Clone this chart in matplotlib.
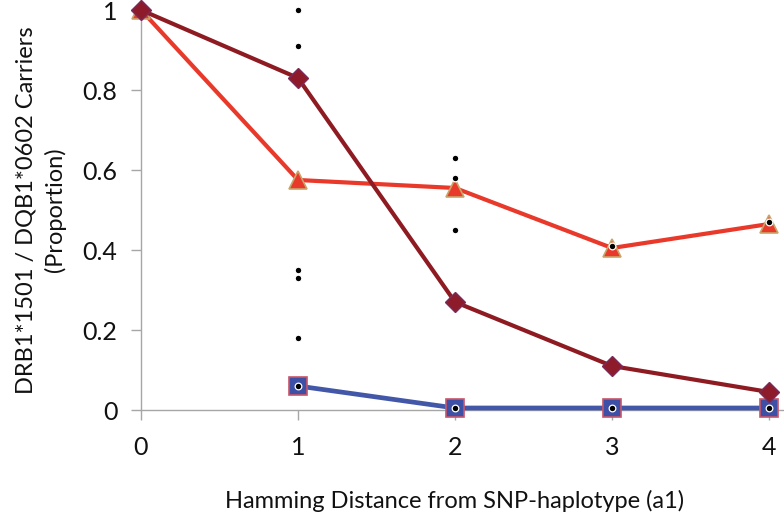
import matplotlib
matplotlib.use("Agg")
import matplotlib.pyplot as plt

plt.rcParams['font.family'] = ['Lato', 'DejaVu Sans']

x_diamond = [0, 1, 2, 3, 4]
y_diamond = [1.0, 0.83, 0.27, 0.11, 0.045]

x_triangle = [0, 1, 2, 3, 4]
y_triangle = [1.0, 0.575, 0.555, 0.405, 0.465]

x_square = [1, 2, 3, 4]
y_square = [0.06, 0.005, 0.005, 0.005]

x_dots = [1, 1, 1, 1, 1, 1, 2, 2, 2, 2, 3, 3, 4, 4]
y_dots = [1.0, 0.91, 0.35, 0.33, 0.18, 0.06, 0.63, 0.58, 0.45, 0.005, 0.41, 0.005, 0.47, 0.005]

xticks = [0, 1, 2, 3, 4]
yticks = [0, 0.2, 0.4, 0.6, 0.8, 1.0]
ytick_labels = ['0', '0.2', '0.4', '0.6', '0.8', '1']

fig = plt.figure(figsize=(7.84, 5.15), dpi=100)
ax = fig.add_axes([141/784, 1 - 410/515, (769-141)/784, 400/515])

ax.plot(x_square, y_square, color='#4257A8', lw=3.4, marker='s', ms=12.5,
        mfc='#3E4FA6', mec='#C8566A', mew=1.2, zorder=3, clip_on=False)
ax.plot(x_triangle, y_triangle, color='#E8392B', lw=3.0, marker='^', ms=13,
        mfc='#E8392B', mec='#C9A56A', mew=1.2, zorder=4, clip_on=False)
ax.plot(x_diamond, y_diamond, color='#8E1B22', lw=3.0, marker='D', ms=10,
        mfc='#8E1B2A', mec='#7A2A5A', mew=1.0, zorder=5, clip_on=False)
ax.plot(x_dots, y_dots, ls='none', marker='o', ms=4.8, mfc='black',
        mec='white', mew=0.9, zorder=6, clip_on=False)

ax.set_xlim(0, 4)
ax.set_ylim(0, 1)
ax.set_xticks(xticks)
ax.set_xticklabels([str(v) for v in xticks])
ax.set_yticks(yticks)
ax.set_yticklabels(ytick_labels)

for s in ['top', 'right']:
    ax.spines[s].set_visible(False)
for s in ['left', 'bottom']:
    ax.spines[s].set_color('#A6A6A6')
    ax.spines[s].set_linewidth(1.0)
ax.spines['bottom'].set_bounds(0, 4.1)

ax.tick_params(axis='both', direction='out', length=7, width=1, color='#A6A6A6',
               labelsize=18, labelcolor='#111111')
ax.tick_params(axis='y', pad=10)
ax.tick_params(axis='x', pad=12)

ax.set_xlabel('Hamming Distance from SNP-haplotype (a1)', fontsize=17,
              color='#111111', labelpad=22)
ax.set_ylabel('DRB1*1501 / DQB1*0602 Carriers\n(Proportion)', fontsize=17,
              color='#111111', labelpad=12, linespacing=1.4)

fig.savefig('out.png', dpi=100)
